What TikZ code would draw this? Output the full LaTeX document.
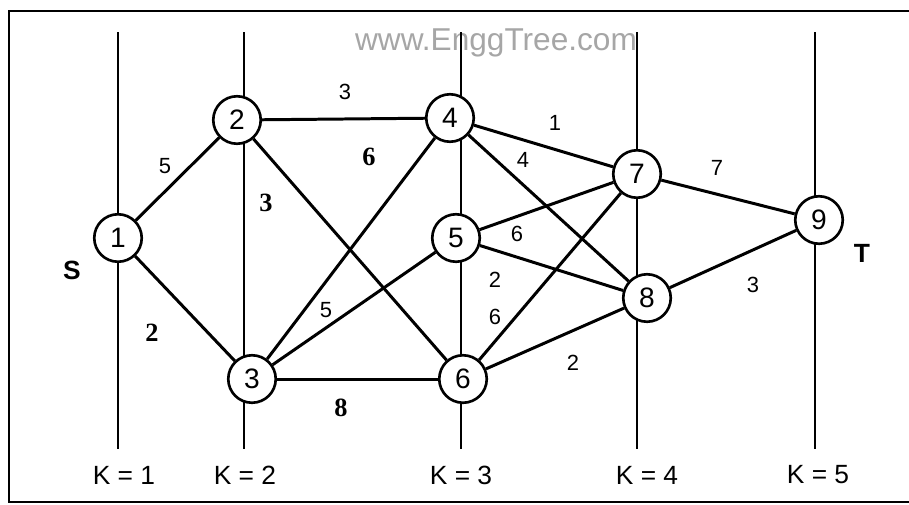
\documentclass[tikz,border=0pt]{standalone}
\usepackage{fontspec}
\setmainfont{Liberation Sans}
\newfontfamily\serifnum{Liberation Serif}
\usetikzlibrary{positioning}

\begin{document}
\begin{tikzpicture}[x=0.02cm, y=-0.02cm,
  stage/.style={circle, draw, line width=1.5pt, minimum size=0.95cm, inner sep=0pt, fill=white, font=\fontsize{16}{16}\selectfont},
  link/.style={line width=1.7pt},
  wt/.style={font=\fontsize{12.5}{12.5}\selectfont},
  bwt/.style={font=\fontsize{15}{15}\serifnum\bfseries\selectfont},
  kline/.style={line width=0.6pt},
  klabel/.style={font=\fontsize{15}{15}\selectfont}]
  \useasboundingbox (0,0) rectangle (909,504);

  % Frame
  \draw[line width=1.4pt] (9,11) rectangle (914,502);
  \node[text=black!35, font=\fontsize{18}{18}\selectfont] (site) at (496,43) {www.EnggTree.com};

  % Stage lines
  \foreach \k/\x in {1/118, 2/244, 3/461, 4/637, 5/815} {
    \coordinate (top\k) at (\x,32);
    \coordinate (bot\k) at (\x,449);
    \draw[kline] (top\k) -- (bot\k);
  }
  \node[klabel] (k1) at (124,475) {K = 1};
  \node[klabel] (k2) at (245,475) {K = 2};
  \node[klabel] (k3) at (461,475) {K = 3};
  \node[klabel] (k4) at (647,475) {K = 4};
  \node[klabel] (k5) at (818,475) {K = 5};

  % Vertices
  \node[stage] (n1) at (118,238) {1};
  \node[stage] (n2) at (237,120) {2};
  \node[stage] (n3) at (252,379) {3};
  \node[stage] (n4) at (450,118) {4};
  \node[stage] (n5) at (456,238) {5};
  \node[stage] (n6) at (463,379) {6};
  \node[stage] (n7) at (637,174) {7};
  \node[stage] (n8) at (647,298) {8};
  \node[stage] (n9) at (819,220) {9};
  \node[font=\fontsize{15}{15}\bfseries\selectfont] (src) at (72,270) {S};
  \node[font=\fontsize{15}{15}\bfseries\selectfont] (snk) at (862,253) {T};

  % Edges
  \draw[link] (n1) -- (n2);
  \draw[link] (n1) -- (n3);
  \draw[link] (n2) -- (n4);
  \draw[link] (n2) -- (n6);
  \draw[link] (n3) -- (n4);
  \draw[link] (n3) -- (n5);
  \draw[link] (n3) -- (n6);
  \draw[link] (n4) -- (n7);
  \draw[link] (n4) -- (n8);
  \draw[link] (n5) -- (n7);
  \draw[link] (n5) -- (n8);
  \draw[link] (n6) -- (n7);
  \draw[link] (n6) -- (n8);
  \draw[link] (n7) -- (n9);
  \draw[link] (n8) -- (n9);

  % Weights
  \node[wt] (w12) at (165,166) {5};
  \node[bwt] (w13) at (152,333) {2};
  \node[wt] (w24) at (345,92) {3};
  \node[bwt] (w26) at (266,203) {3};
  \node[bwt] (w34) at (369,157) {6};
  \node[wt] (w35) at (326,310) {5};
  \node[bwt] (w36) at (341,408) {8};
  \node[wt] (w47) at (555,123) {1};
  \node[wt] (w48) at (523,160) {4};
  \node[wt] (w57) at (517,234) {6};
  \node[wt] (w58) at (495,280) {2};
  \node[wt] (w67) at (495,317) {6};
  \node[wt] (w68) at (573,363) {2};
  \node[wt] (w79) at (717,168) {7};
  \node[wt] (w89) at (753,285) {3};

\end{tikzpicture}
\end{document}
